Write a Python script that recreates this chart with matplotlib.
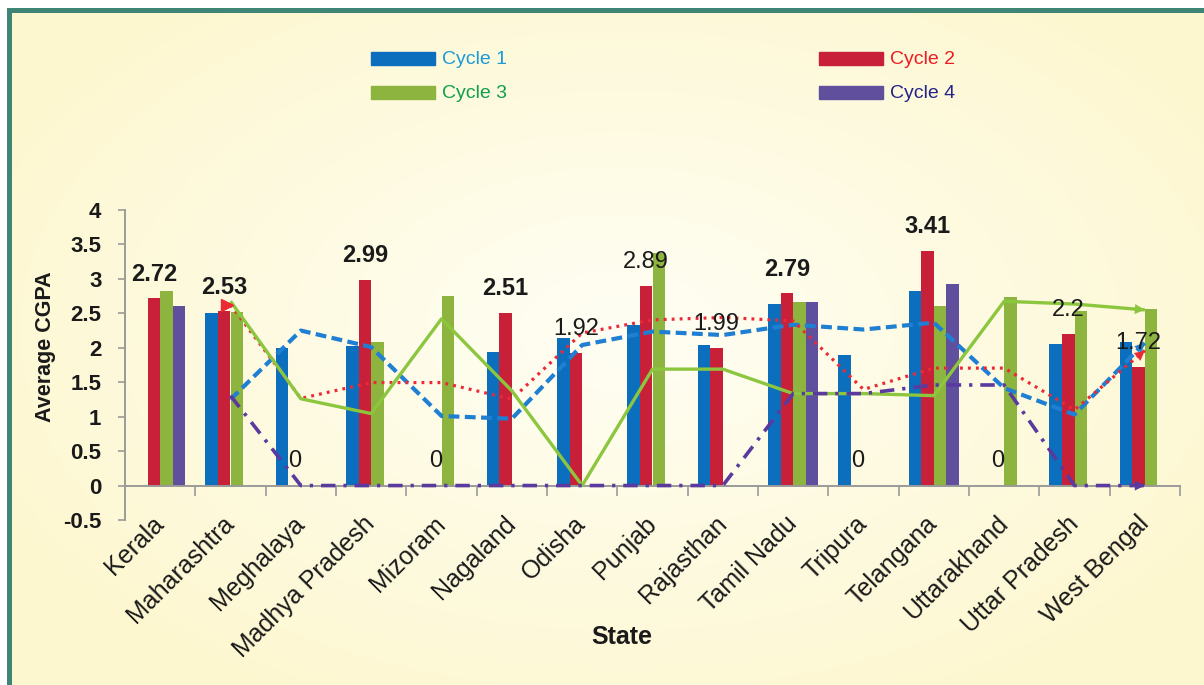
import numpy as np
import matplotlib
matplotlib.use("Agg")
import matplotlib.pyplot as plt

# ---------------- data ----------------
states = ["Kerala", "Maharashtra", "Meghalaya", "Madhya Pradesh", "Mizoram",
          "Nagaland", "Odisha", "Punjab", "Rajasthan", "Tamil Nadu", "Tripura",
          "Telangana", "Uttarakhand", "Uttar Pradesh", "West Bengal"]
cycle1 = [0, 2.50, 2.00, 2.02, 0, 1.94, 2.14, 2.33, 2.04, 2.63, 1.90, 2.83, 0, 2.06, 2.09]
cycle2 = [2.72, 2.53, 0, 2.99, 0, 2.51, 1.92, 2.89, 1.99, 2.79, 0, 3.41, 0, 2.20, 1.72]
cycle3 = [2.83, 2.52, 0, 2.09, 2.75, 0, 0, 3.38, 0, 2.67, 0, 2.61, 2.74, 2.53, 2.57]
cycle4 = [2.61, 0, 0, 0, 0, 0, 0, 0, 0, 2.67, 0, 2.92, 0, 0, 0]
cycle2_labels = ["2.72", "2.53", "0", "2.99", "0", "2.51", "1.92", "2.89", "1.99",
                 "2.79", "0", "3.41", "0", "2.2", "1.72"]
series_names = ["Cycle 1", "Cycle 2", "Cycle 3", "Cycle 4"]
yticks = [-0.5, 0, 0.5, 1, 1.5, 2, 2.5, 3, 3.5, 4]

# ---------------- style ----------------
W, H = 1204, 685
NARROW = ["Liberation Sans Narrow", "Liberation Sans", "DejaVu Sans"]
SANS = ["Liberation Sans", "DejaVu Sans"]
bar_colors = ["#0b6fbe", "#c9203a", "#8db43e", "#5f4f9c"]
line_colors = ["#1f7fd2", "#ec2a36", "#8cc63f", "#5a3a9e"]
text_colors = ["#1a9ad8", "#ec1c24", "#0ea04a", "#24248a"]
bold_label_idx = {0, 1, 3, 5, 9, 11}

fig = plt.figure(figsize=(W / 100, H / 100), dpi=100)

# background: soft radial cream gradient + teal frame
yy, xx = np.mgrid[0:H, 0:W]
r = np.sqrt(((xx - 620) / 700.0) ** 2 + ((yy - 330) / 420.0) ** 2)
r = np.clip(r, 0, 1)
c0 = np.array([255, 254, 244]) / 255.0
c1 = np.array([253, 247, 208]) / 255.0
img = c0[None, None, :] * (1 - r[..., None]) + c1[None, None, :] * r[..., None]
img[:8, :, :] = 1.0
img[:, :7, :] = 1.0
teal = np.array([63, 133, 117]) / 255.0
img[8:13, 7:, :] = teal
img[8:, 7:12, :] = teal
bg = fig.add_axes([0, 0, 1, 1], zorder=-10)
bg.imshow(img, extent=[0, 1, 0, 1], aspect="auto", interpolation="nearest")
bg.axis("off")

# main axes
x0, x1 = 125, 1180
ytop, ybot = 210, 520
ax = fig.add_axes([x0 / W, 1 - ybot / H, (x1 - x0) / W, (ybot - ytop) / H])
ax.patch.set_alpha(0)
ax.set_xlim(-0.5, len(states) - 0.5)
ax.set_ylim(-0.5, 4)

x = np.arange(len(states))
bw = 0.178
data = [np.array(cycle1), np.array(cycle2), np.array(cycle3), np.array(cycle4)]
for k, vals in enumerate(data):
    ax.bar(x + (k - 1.5) * bw, vals, width=bw, color=bar_colors[k],
           edgecolor="none", zorder=2)

# 2-period moving-average trendlines
styles = [
    dict(lw=3.0, dashes=(2.6, 1.3)),
    dict(lw=2.3, dashes=(0.9, 1.6)),
    dict(lw=2.4, linestyle="-"),
    dict(lw=2.6, dashes=(4.0, 2.2, 0.9, 2.2)),
]
for k, vals in enumerate(data):
    ma = (vals[:-1] + vals[1:]) / 2.0
    xm = x[1:]
    ax.plot(xm, ma, color=line_colors[k], zorder=4, solid_capstyle="butt", **styles[k])
    ax.annotate("", xy=(xm[-1], ma[-1]), xytext=(xm[-2] + 0.75 * (xm[-1] - xm[-2]),
                ma[-2] + 0.75 * (ma[-1] - ma[-2])),
                arrowprops=dict(arrowstyle="-|>", color=line_colors[k], lw=0.01,
                                mutation_scale=18, shrinkA=0, shrinkB=0),
                zorder=5)
    if k == 1:
        ax.plot([xm[0] - 0.05], [ma[0]], marker=">", color=line_colors[k],
                markersize=9, zorder=5, linestyle="none")

# data labels for cycle 2
for i, (v, lab) in enumerate(zip(cycle2, cycle2_labels)):
    ax.text(x[i] - 0.5 * bw, v + 0.35, lab, ha="center", va="center",
            fontsize=17, family=SANS,
            fontweight="bold" if i in bold_label_idx else "normal",
            color="#1a1a1a", zorder=6)

# axes styling
for s in ["top", "right"]:
    ax.spines[s].set_visible(False)
ax.spines["bottom"].set_position(("data", 0))
ax.spines["bottom"].set_color("#9a9a9a")
ax.spines["bottom"].set_linewidth(1.4)
ax.spines["left"].set_color("#9a9a9a")
ax.spines["left"].set_linewidth(1.4)
ax.set_yticks(yticks)
ax.set_yticklabels([f"{t:g}" for t in yticks], fontsize=16, fontweight="bold",
                   family=NARROW, color="#1a1a1a")
ax.tick_params(axis="y", direction="out", length=5, width=1.2, color="#9a9a9a", pad=12)
ax.set_xticks(np.arange(0.5, len(states), 1.0))
ax.set_xticklabels([])
ax.tick_params(axis="x", direction="out", length=7, width=1.2, color="#9a9a9a")

for i, s in enumerate(states):
    ax.text(x[i] - 0.12, -0.38, s, rotation=45, rotation_mode="anchor",
            ha="right", va="top", fontsize=18, family=SANS, color="#1a1a1a")

fig.text(46 / W, 1 - 347 / H, "Average CGPA", rotation=90, ha="center", va="center",
         fontsize=15.5, fontweight="bold", family=NARROW, color="#1a1a1a")
fig.text(622 / W, 1 - 637 / H, "State", ha="center", va="center",
         fontsize=18, fontweight="bold", family=SANS, color="#1a1a1a")

# legend (manual, two columns)
leg_pos = [(371, 52), (819, 52), (371, 86), (819, 86)]
for k, (lx, ly) in enumerate(leg_pos):
    fig.patches.append(plt.Rectangle((lx / W, 1 - (ly + 13) / H), 64 / W, 13 / H,
                                     transform=fig.transFigure, color=bar_colors[k]))
    fig.text((lx + 71) / W, 1 - (ly + 7) / H, series_names[k], ha="left", va="center",
             fontsize=14, family=SANS, color=text_colors[k])

fig.savefig("out.png", dpi=100)
